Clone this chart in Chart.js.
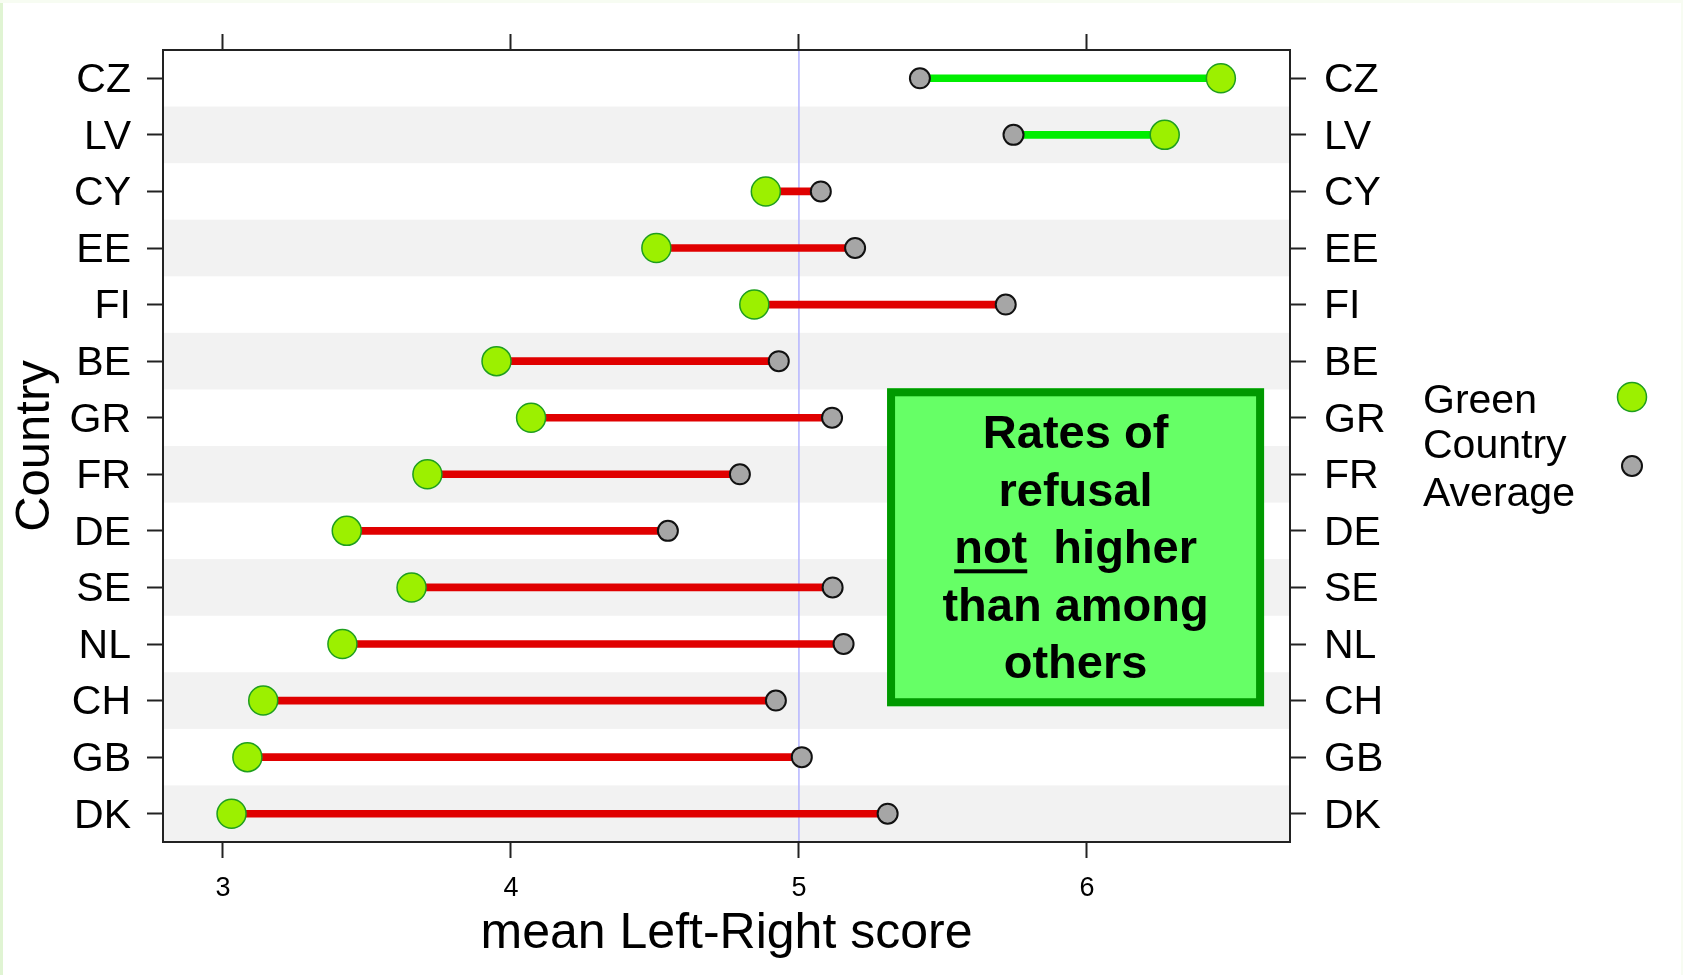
<!DOCTYPE html>
<html>
<head>
<meta charset="utf-8">
<title>Green vs country average - mean Left-Right score</title>
<script src="https://cdn.jsdelivr.net/npm/chart.js@4.4.1/dist/chart.umd.min.js"></script>
<style>
  html, body { margin: 0; padding: 0; background: #fff; }
  #wrap { position: relative; width: 1683px; height: 975px; }
</style>
</head>
<body>
<div id="wrap"><canvas id="chart" width="1683" height="975"></canvas></div>
<script>
// values (mean Left-Right score)
const countries = ['CZ', 'LV', 'CY', 'EE', 'FI', 'BE', 'GR', 'FR', 'DE', 'SE', 'NL', 'CH', 'GB', 'DK'];
const greenScore = [6.465, 6.27, 4.885, 4.505, 4.845, 3.95, 4.07, 3.71, 3.43, 3.655, 3.415, 3.14, 3.085, 3.03];
const countryAverage = [5.42, 5.745, 5.076, 5.195, 5.718, 4.93, 5.115, 4.795, 4.545, 5.117, 5.155, 4.92, 5.01, 5.308];
const xTicks = [3, 4, 5, 6];
const refLine = 5;
const boxLines = ['Rates of', 'refusal', 'not  higher', 'than among', 'others'];

const FONT = '"Liberation Sans", Arial, Helvetica, sans-serif';
const INK = '#222';
const X_MIN = 2.792, X_MAX = 6.705;

// segment colour: green when the Greens sit to the right of the average
const segColors = greenScore.map((g, i) => g > countryAverage[i] ? '#00ee00' : '#e00000');

const tickGrid = {
  drawOnChartArea: false,
  drawTicks: true,
  offset: false,
  tickLength: 16,
  tickWidth: 2,
  tickColor: INK
};
const axisBorder = { display: true, color: INK, width: 2 };
const setTicks = s => { s.ticks = xTicks.map(v => ({ value: v })); };

// --- background bands, reference line, legend and text box ---
const decor = {
  id: 'decor',
  beforeDraw(chart) {
    const { ctx, chartArea: a, scales: { x, y } } = chart;
    ctx.save();
    ctx.fillStyle = '#fff';
    ctx.fillRect(0, 0, chart.width, chart.height);
    ctx.fillStyle = '#e0f4d3';
    ctx.fillRect(0, 0, 3, chart.height);
    ctx.fillStyle = '#f7fcf2';
    ctx.fillRect(0, 0, chart.width, 3);
    ctx.fillRect(chart.width - 2, 0, 2, chart.height);

    const band = Math.abs(y.getPixelForValue(1) - y.getPixelForValue(0));
    ctx.fillStyle = '#f2f2f2';
    countries.forEach((c, i) => {
      if (i % 2 === 1) {
        const cy = y.getPixelForValue(i);
        ctx.fillRect(a.left, cy - band / 2, a.right - a.left, band);
      }
    });

    const rx = x.getPixelForValue(refLine);
    ctx.strokeStyle = '#b4b4ff';
    ctx.lineWidth = 1.5;
    ctx.beginPath();
    ctx.moveTo(rx, a.top);
    ctx.lineTo(rx, a.bottom);
    ctx.stroke();
    ctx.restore();
  },
  afterDraw(chart) {
    const { ctx, scales: { x, y } } = chart;
    ctx.save();

    // legend
    ctx.font = '41px ' + FONT;
    ctx.fillStyle = '#000';
    ctx.textAlign = 'left';
    ctx.textBaseline = 'alphabetic';
    ctx.fillText('Green', 1423, 413);
    ctx.fillText('Country', 1423, 458);
    ctx.fillText('Average', 1423, 506);

    ctx.beginPath();
    ctx.arc(1632, 397, 14.5, 0, Math.PI * 2);
    ctx.fillStyle = '#9cf000';
    ctx.fill();
    ctx.lineWidth = 1.5;
    ctx.strokeStyle = '#1e9e1e';
    ctx.stroke();

    ctx.beginPath();
    ctx.arc(1632, 466, 10, 0, Math.PI * 2);
    ctx.fillStyle = '#a6a6a6';
    ctx.fill();
    ctx.lineWidth = 2;
    ctx.strokeStyle = '#111';
    ctx.stroke();

    // green text box
    const bx0 = x.getPixelForValue(5.306), bx1 = x.getPixelForValue(6.615);
    const by0 = y.getPixelForValue(5.48), by1 = y.getPixelForValue(11.10);
    ctx.fillStyle = '#66ff66';
    ctx.fillRect(bx0, by0, bx1 - bx0, by1 - by0);
    ctx.lineWidth = 8;
    ctx.strokeStyle = '#009900';
    ctx.strokeRect(bx0 + 4, by0 + 4, bx1 - bx0 - 8, by1 - by0 - 8);

    const cx = (bx0 + bx1) / 2;
    ctx.font = 'bold 47px ' + FONT;
    ctx.fillStyle = '#000';
    ctx.textAlign = 'center';
    boxLines.forEach((t, i) => {
      const base = by0 + 60 + i * 57.5;
      ctx.fillText(t, cx, base);
      if (t.startsWith('not')) {
        const w = ctx.measureText(t).width;
        const nw = ctx.measureText('not').width;
        ctx.fillRect(cx - w / 2, base + 6, nw, 4);
      }
    });
    ctx.restore();
  }
};

new Chart(document.getElementById('chart'), {
  type: 'bar',
  data: {
    labels: countries,
    datasets: [
      {
        type: 'bar',
        label: 'difference',
        data: countries.map((c, i) => [greenScore[i], countryAverage[i]]),
        backgroundColor: segColors,
        borderWidth: 0,
        borderSkipped: false,
        barThickness: 7,
        xAxisID: 'x',
        yAxisID: 'y',
        order: 3
      },
      {
        type: 'line',
        label: 'Country Average',
        indexAxis: 'y',
        data: countryAverage,
        showLine: false,
        pointRadius: 10,
        pointHoverRadius: 10,
        pointBackgroundColor: '#a6a6a6',
        pointBorderColor: '#111',
        pointBorderWidth: 2,
        xAxisID: 'x',
        yAxisID: 'y',
        order: 2
      },
      {
        type: 'line',
        label: 'Green',
        indexAxis: 'y',
        data: greenScore,
        showLine: false,
        pointRadius: 14.5,
        pointHoverRadius: 14.5,
        pointBackgroundColor: '#9cf000',
        pointBorderColor: '#1e9e1e',
        pointBorderWidth: 1.5,
        xAxisID: 'x',
        yAxisID: 'y',
        order: 1
      }
    ]
  },
  options: {
    indexAxis: 'y',
    responsive: false,
    animation: false,
    devicePixelRatio: 1,
    events: [],
    layout: { padding: 0 },
    plugins: {
      legend: { display: false },
      tooltip: { enabled: false }
    },
    scales: {
      x: {
        type: 'linear',
        position: 'bottom',
        min: X_MIN,
        max: X_MAX,
        afterBuildTicks: setTicks,
        afterFit: s => { s.height = 133; },
        grid: tickGrid,
        border: axisBorder,
        ticks: { color: '#000', font: { family: FONT, size: 27 }, padding: 14 },
        title: {
          display: true,
          text: 'mean Left-Right score',
          color: '#000',
          font: { family: FONT, size: 50 },
          padding: { top: 0, bottom: 11 }
        }
      },
      x2: {
        type: 'linear',
        position: 'top',
        min: X_MIN,
        max: X_MAX,
        afterBuildTicks: setTicks,
        afterFit: s => { s.height = 50; },
        grid: tickGrid,
        border: axisBorder,
        ticks: { display: false }
      },
      y: {
        type: 'category',
        position: 'left',
        offset: true,
        afterFit: s => { s.width = 163; },
        grid: tickGrid,
        border: axisBorder,
        ticks: { color: '#000', font: { family: FONT, size: 41 }, padding: 16, labelOffset: 2.5 },
        title: {
          display: true,
          text: 'Country',
          color: '#000',
          font: { family: FONT, size: 49 },
          padding: { top: 6, bottom: 0 }
        }
      },
      y2: {
        type: 'category',
        position: 'right',
        labels: countries,
        offset: true,
        afterFit: s => { s.width = 393; },
        grid: tickGrid,
        border: axisBorder,
        ticks: { color: '#000', font: { family: FONT, size: 41 }, padding: 18, labelOffset: 2.5 }
      }
    }
  },
  plugins: [decor]
});
</script>
</body>
</html>
